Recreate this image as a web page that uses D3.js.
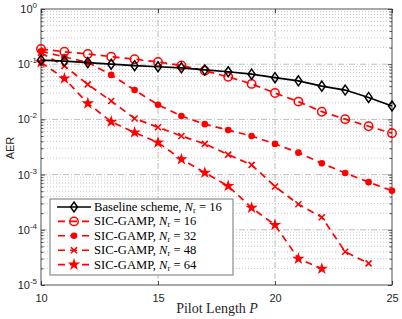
<!DOCTYPE html>
<html>
<head>
<meta charset="utf-8">
<script src="https://cdn.jsdelivr.net/npm/d3@7"></script>
<style>
  body { margin: 0; background: #fff; }
  svg { display: block; }
  .serif { font-family: 'Liberation Serif', 'DejaVu Serif', serif; }
  .sans { font-family: 'Liberation Sans', 'DejaVu Sans', sans-serif; }
</style>
</head>
<body>
<svg id="chart" width="402" height="319"></svg>
<script>
// data
const pilotLen = [10, 11, 12, 13, 14, 15, 16, 17, 18, 19, 20, 21, 22, 23, 24, 25];
const baseline = [0.119, 0.114, 0.107, 0.100, 0.094, 0.090, 0.086, 0.079, 0.073, 0.066, 0.057, 0.050, 0.040, 0.034, 0.025, 0.0175];
const nr16 = [0.188, 0.168, 0.153, 0.137, 0.123, 0.110, 0.095, 0.076, 0.059, 0.044, 0.030, 0.021, 0.0138, 0.0101, 0.0075, 0.0056];
const nr32 = [0.172, 0.135, 0.108, 0.064, 0.034, 0.0184, 0.0115, 0.0082, 0.0064, 0.0050, 0.0036, 0.0025, 0.0016, 0.00107, 0.00073, 0.00051];
const nr48 = [0.160, 0.093, 0.043, 0.0215, 0.0104, 0.0072, 0.0050, 0.0036, 0.0023, 0.0015, 0.00061, 0.00029, 0.000169, 0.00004, 0.0000247];
const nr64 = [0.108, 0.055, 0.0195, 0.0091, 0.0058, 0.0038, 0.0019, 0.00108, 0.00062, 0.00025, 0.000122, 0.000030, 0.0000197];
const xTicks = [10, 15, 20, 25];
const yExps = [0, -1, -2, -3, -4, -5];

const mLeft = 41, mRight = 392, mTop = 9, mBottom = 285;
const svg = d3.select('#chart');

const x = d3.scaleLinear().domain([10, 25]).range([mLeft, mRight]);
const y = d3.scaleLog().domain([1e-5, 1]).range([mBottom, mTop]);

// grid
const grid = svg.append('g');
const minorVals = [];
for (let e = -5; e < 0; e++) {
  for (let k = 2; k <= 9; k++) minorVals.push(k * Math.pow(10, e));
}
grid.selectAll('.minor')
  .data(minorVals)
  .enter().append('line')
  .attr('x1', mLeft).attr('x2', mRight)
  .attr('y1', d => y(d)).attr('y2', d => y(d))
  .attr('stroke', '#c8c8c8').attr('stroke-width', 1)
  .attr('stroke-dasharray', '1,2');
grid.selectAll('.majorY')
  .data(yExps.slice(1, -1))
  .enter().append('line')
  .attr('x1', mLeft).attr('x2', mRight)
  .attr('y1', d => y(Math.pow(10, d))).attr('y2', d => y(Math.pow(10, d)))
  .attr('stroke', '#bdbdbd').attr('stroke-width', 1)
  .attr('stroke-dasharray', '6,2,1,2');
grid.selectAll('.majorX')
  .data(xTicks.slice(1, -1))
  .enter().append('line')
  .attr('x1', d => x(d)).attr('x2', d => x(d))
  .attr('y1', mTop).attr('y2', mBottom)
  .attr('stroke', '#bdbdbd').attr('stroke-width', 1)
  .attr('stroke-dasharray', '6,2,1,2');

// axes with inward ticks
const axisCol = '#262626';
const xAxis = svg.append('g')
  .attr('transform', `translate(0,${mBottom})`)
  .call(d3.axisBottom(x).tickValues(xTicks).tickSizeInner(-4).tickSizeOuter(0).tickPadding(9));
const xAxisTop = svg.append('g')
  .attr('transform', `translate(0,${mTop})`)
  .call(d3.axisTop(x).tickValues(xTicks).tickSizeInner(-4).tickSizeOuter(0).tickFormat(''));
const yAxis = svg.append('g')
  .attr('transform', `translate(${mLeft},0)`)
  .call(d3.axisLeft(y).tickValues(yExps.map(e => Math.pow(10, e))).tickSizeInner(-4).tickSizeOuter(0).tickFormat(''));
const yAxisR = svg.append('g')
  .attr('transform', `translate(${mRight},0)`)
  .call(d3.axisRight(y).tickValues(yExps.map(e => Math.pow(10, e))).tickSizeInner(-4).tickSizeOuter(0).tickFormat(''));
const yMinL = svg.append('g')
  .attr('transform', `translate(${mLeft},0)`)
  .call(d3.axisLeft(y).tickValues(minorVals).tickSizeInner(-2.5).tickSizeOuter(0).tickFormat(''));
const yMinR = svg.append('g')
  .attr('transform', `translate(${mRight},0)`)
  .call(d3.axisRight(y).tickValues(minorVals).tickSizeInner(-2.5).tickSizeOuter(0).tickFormat(''));

[xAxis, xAxisTop, yAxis, yAxisR, yMinL, yMinR].forEach(g => {
  g.select('.domain').remove();
  g.selectAll('line').attr('stroke', axisCol).attr('stroke-width', 0.8);
});
xAxis.attr('font-family', null).attr('font-size', null);
xAxis.selectAll('text')
  .attr('class', 'sans')
  .attr('font-size', 11).attr('fill', axisCol);

// y tick labels as 10^e
const yLab = svg.append('g');
yExps.forEach(e => {
  const t = yLab.append('text')
    .attr('class', 'sans')
    .attr('x', 37).attr('y', y(Math.pow(10, e)) + 4)
    .attr('text-anchor', 'end')
    .attr('font-size', 11).attr('fill', axisCol);
  t.append('tspan').text('10');
  t.append('tspan').attr('font-size', 8).attr('dy', -5).text(e);
});

// box
svg.append('rect')
  .attr('x', mLeft).attr('y', mTop)
  .attr('width', mRight - mLeft).attr('height', mBottom - mTop)
  .attr('fill', 'none').attr('stroke', axisCol).attr('stroke-width', 0.8);

// axis labels
svg.append('text')
  .attr('class', 'sans')
  .attr('transform', 'translate(14,148) rotate(-90)')
  .attr('text-anchor', 'middle')
  .attr('font-size', 11).attr('fill', axisCol)
  .text('AER');
const xl = svg.append('text')
  .attr('class', 'serif')
  .attr('x', 217).attr('y', 313)
  .attr('text-anchor', 'middle')
  .attr('font-size', 14).attr('fill', axisCol);
xl.append('tspan').text('Pilot Length ');
xl.append('tspan').attr('font-style', 'italic').text('P');

// markers
function drawMarker(g, type, cx, cy, color) {
  if (type === 'diamond') {
    g.append('path')
      .attr('d', `M${cx},${cy - 5}L${cx + 3.5},${cy}L${cx},${cy + 5}L${cx - 3.5},${cy}Z`)
      .attr('fill', 'none').attr('stroke', color).attr('stroke-width', 1.5);
  } else if (type === 'ocircle') {
    g.append('circle').attr('cx', cx).attr('cy', cy).attr('r', 4.2)
      .attr('fill', 'none').attr('stroke', color).attr('stroke-width', 1.5);
  } else if (type === 'fcircle') {
    g.append('circle').attr('cx', cx).attr('cy', cy).attr('r', 3.3)
      .attr('fill', color);
  } else if (type === 'cross') {
    g.append('path')
      .attr('d', `M${cx - 3},${cy - 3}L${cx + 3},${cy + 3}M${cx - 3},${cy + 3}L${cx + 3},${cy - 3}`)
      .attr('stroke', color).attr('stroke-width', 1.6);
  } else if (type === 'star') {
    g.append('path')
      .attr('d', d3.symbol(d3.symbolStar, 48)())
      .attr('transform', `translate(${cx},${cy})`)
      .attr('fill', color);
  }
}

const series = [
  { name: 'Baseline scheme, ', nr: '16', vals: baseline, color: '#000', dash: null, marker: 'diamond' },
  { name: 'SIC-GAMP, ', nr: '16', vals: nr16, color: '#ff0000', dash: '7,5', marker: 'ocircle' },
  { name: 'SIC-GAMP, ', nr: '32', vals: nr32, color: '#ff0000', dash: '7,5', marker: 'fcircle' },
  { name: 'SIC-GAMP, ', nr: '48', vals: nr48, color: '#ff0000', dash: '7,5', marker: 'cross' },
  { name: 'SIC-GAMP, ', nr: '64', vals: nr64, color: '#ff0000', dash: '7,5', marker: 'star' }
];

const line = d3.line().x(d => x(d[0])).y(d => y(d[1]));
const plot = svg.append('g');
series.slice().reverse().forEach(s => {
  const pts = s.vals.map((v, i) => [pilotLen[i], v]);
  plot.append('path')
    .datum(pts)
    .attr('d', line)
    .attr('fill', 'none')
    .attr('stroke', s.color)
    .attr('stroke-width', 1.7)
    .attr('stroke-dasharray', s.dash);
  const mg = plot.append('g');
  pts.forEach(p => drawMarker(mg, s.marker, x(p[0]), y(p[1]), s.color));
});

// legend
const legend = svg.append('g');
legend.append('rect')
  .attr('x', 50).attr('y', 199)
  .attr('width', 183).attr('height', 76)
  .attr('fill', '#fff').attr('stroke', '#8c8c8c').attr('stroke-width', 1.2);
series.forEach((s, i) => {
  const ly = 207 + i * 14.4;
  legend.append('line')
    .attr('x1', 57).attr('x2', 91)
    .attr('y1', ly).attr('y2', ly)
    .attr('stroke', s.color).attr('stroke-width', 1.6)
    .attr('stroke-dasharray', s.dash ? '7,5' : null)
    .attr('stroke-dashoffset', s.dash ? -1 : null);
  drawMarker(legend, s.marker, 74, ly, s.color);
  const t = legend.append('text')
    .attr('class', 'serif')
    .attr('x', 94).attr('y', ly + 4)
    .attr('font-size', 12.6).attr('fill', '#000');
  t.append('tspan').text(s.name);
  t.append('tspan').attr('font-style', 'italic').text('N');
  t.append('tspan').attr('font-size', 8.5).attr('baseline-shift', '-2').text('r');
  t.append('tspan').text(' = ' + s.nr);
});
</script>
</body>
</html>
